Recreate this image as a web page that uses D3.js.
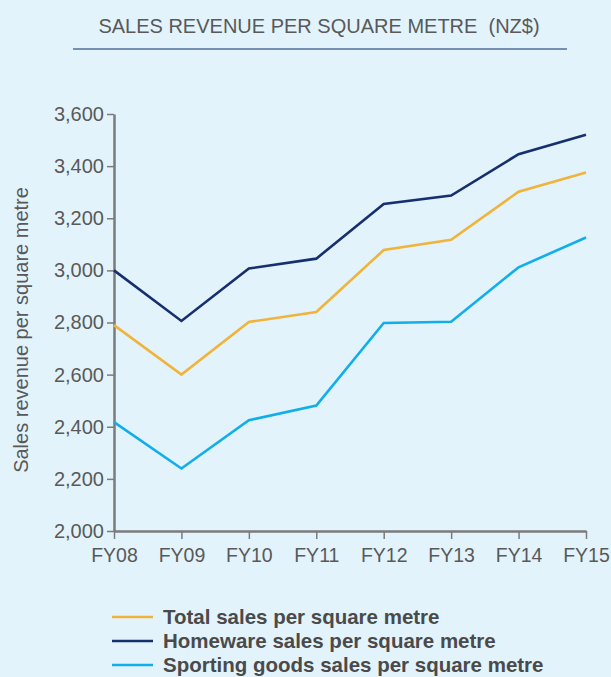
<!DOCTYPE html>
<html>
<head>
<meta charset="utf-8">
<script src="https://cdn.jsdelivr.net/npm/d3@7.9.0/dist/d3.min.js"></script>
<style>
  html, body { margin: 0; padding: 0; background: #e3f3fc; }
  svg { display: block; }
  text { font-family: "Liberation Sans", Arial, sans-serif; }
</style>
</head>
<body>
<svg id="chart" width="611" height="677"></svg>
<script>
// Data
const years = ['FY08', 'FY09', 'FY10', 'FY11', 'FY12', 'FY13', 'FY14', 'FY15'];
const totalSales = [2790, 2600, 2802, 2840, 3078, 3117, 3302, 3376];
const homewareSales = [3000, 2806, 3007, 3045, 3255, 3287, 3446, 3520];
const sportingSales = [2418, 2240, 2425, 2481, 2798, 2803, 3012, 3126];
const yTicks = [2000, 2200, 2400, 2600, 2800, 3000, 3200, 3400, 3600];

const series = [
  { name: 'Total sales per square metre', values: totalSales, color: '#f0b43b' },
  { name: 'Homeware sales per square metre', values: homewareSales, color: '#162f6f' },
  { name: 'Sporting goods sales per square metre', values: sportingSales, color: '#10aeea' }
];

const svg = d3.select('#chart');
const axisColor = '#7b7b7b';
const textColor = '#595959';
const font = '"Liberation Sans", Arial, sans-serif';

// Title and rule
svg.append('text')
  .attr('x', 319).attr('y', 33)
  .attr('text-anchor', 'middle')
  .attr('font-size', 20)
  .attr('fill', textColor)
  .style('white-space', 'pre')
  .text('SALES REVENUE PER SQUARE METRE  (NZ$)');

svg.append('line')
  .attr('x1', 73).attr('x2', 567)
  .attr('y1', 49).attr('y2', 49)
  .attr('stroke', '#4f6c9c').attr('stroke-width', 1.3);

const x = d3.scalePoint().domain(years).range([114, 586]);
const y = d3.scaleLinear().domain([2000, 3600]).range([531, 114]);

// Y axis
const yAxis = svg.append('g')
  .attr('transform', 'translate(114,0)')
  .call(d3.axisLeft(y).tickValues(yTicks).tickSize(7).tickSizeOuter(0).tickPadding(3)
    .tickFormat(d3.format(',')));
yAxis.select('.domain').attr('stroke', axisColor).attr('stroke-width', 2.5);
yAxis.selectAll('.tick line').attr('stroke', axisColor).attr('stroke-width', 1.5);
yAxis.selectAll('.tick text').attr('fill', textColor).attr('font-size', 20)
  .attr('font-family', font);

// X axis
const xAxis = svg.append('g')
  .attr('transform', 'translate(0,531)')
  .call(d3.axisBottom(x).tickSize(8).tickSizeOuter(0).tickPadding(9));
xAxis.select('.domain').attr('stroke', axisColor).attr('stroke-width', 2.5);
xAxis.selectAll('.tick line').attr('stroke', axisColor).attr('stroke-width', 1.5);
xAxis.selectAll('.tick text').attr('fill', textColor).attr('font-size', 19.5)
  .attr('font-family', font);

// Y axis title
svg.append('text')
  .attr('transform', 'translate(28,330) rotate(-90)')
  .attr('text-anchor', 'middle')
  .attr('font-size', 20)
  .attr('fill', textColor)
  .text('Sales revenue per square metre');

// Lines
const line = d3.line()
  .x((d, i) => x(years[i]))
  .y(d => y(d));

svg.selectAll('path.series')
  .data(series)
  .enter()
  .append('path')
  .attr('class', 'series')
  .attr('fill', 'none')
  .attr('stroke', d => d.color)
  .attr('stroke-width', 2.6)
  .attr('d', d => line(d.values));

// Legend (last row sits right at the bottom edge, as in the source)
const legend = svg.append('g');
series.forEach((s, i) => {
  const ly = 617 + i * 24;
  legend.append('line')
    .attr('x1', 112).attr('x2', 153)
    .attr('y1', ly).attr('y2', ly)
    .attr('stroke', s.color).attr('stroke-width', 2.6);
  legend.append('text')
    .attr('x', 163).attr('y', ly + 7)
    .attr('font-size', 20.5)
    .attr('font-weight', 'bold')
    .attr('fill', '#4a4a4a')
    .text(s.name);
});
</script>
</body>
</html>
